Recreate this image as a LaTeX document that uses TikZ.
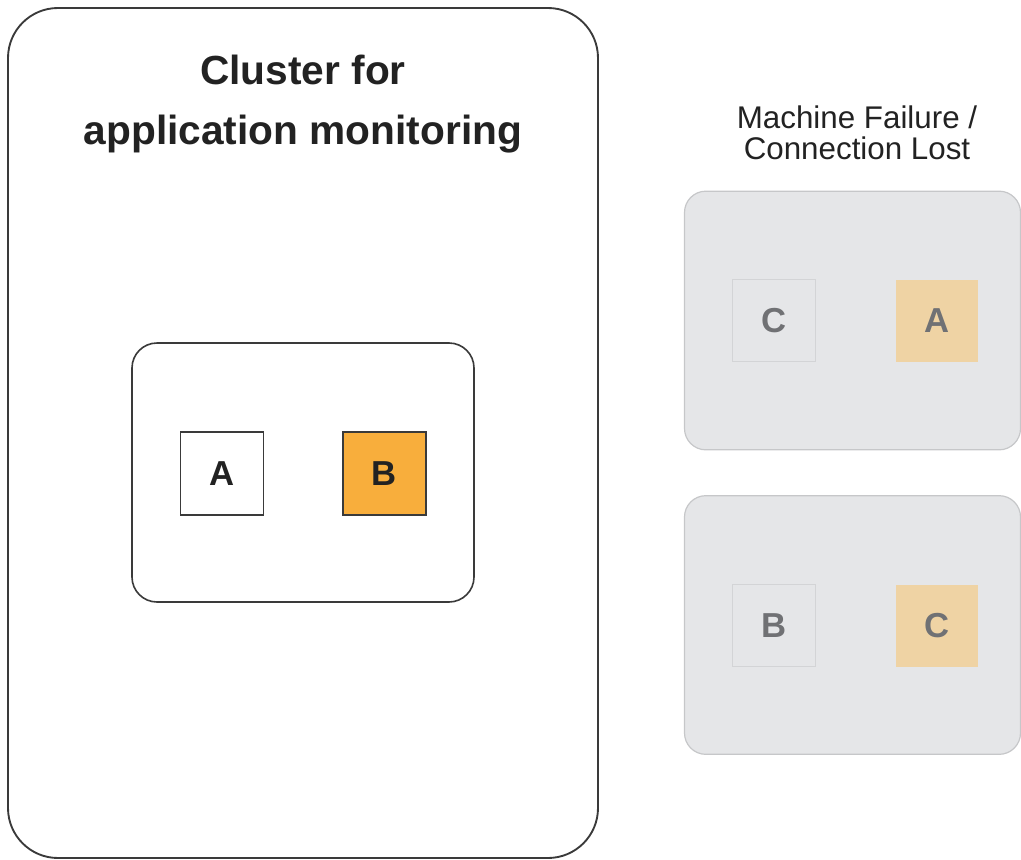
\documentclass[tikz,border=0pt]{standalone}
\usepackage{fontspec}
\setmainfont{Liberation Sans}
\definecolor{darkline}{HTML}{3A3A3A}
\definecolor{orangefill}{HTML}{F8AE3C}
\definecolor{tanfill}{HTML}{EFD3A4}
\definecolor{grayfill}{HTML}{E5E6E8}
\definecolor{grayline}{HTML}{C6C7C9}
\definecolor{lightline}{HTML}{D3D4D6}
\definecolor{graytext}{HTML}{707174}
\definecolor{titletext}{HTML}{222222}
\tikzset{
  bigbox/.style={draw=darkline, line width=1.4pt, rounded corners=37.5pt, fill=white,
    minimum width=442.5pt, minimum height=637.5pt, inner sep=0pt},
  groupbox/.style={draw=darkline, line width=1.2pt, rounded corners=18.75pt, fill=white,
    minimum width=256.5pt, minimum height=194.25pt, inner sep=0pt},
  failbox/.style={draw=grayline, line width=0.9pt, rounded corners=16pt, fill=grayfill,
    minimum width=252pt, minimum height=194pt, inner sep=0pt},
  taskbox/.style={draw=darkline, line width=1.3pt, minimum width=62.25pt, minimum height=62.25pt,
    inner sep=0pt, font=\fontsize{26}{30}\selectfont\bfseries, text=titletext},
  ghostbox/.style={draw=lightline, line width=0.8pt, minimum width=62pt, minimum height=62pt,
    inner sep=0pt, font=\fontsize{26}{30}\selectfont\bfseries, text=graytext},
  titlefont/.style={font=\fontsize{30.5}{40}\selectfont\bfseries, text=titletext, inner sep=0pt, anchor=base},
  notefont/.style={font=\fontsize{23.5}{28}\selectfont, text=titletext, inner sep=0pt, anchor=base},
}
\begin{document}
\begin{tikzpicture}[x=0.75pt,y=-0.75pt]
\useasboundingbox (0,0) rectangle (1021,860);
% left cluster
\node[bigbox] (cluster) at (303,433) {};
\node[titlefont] (t1) at (303,84) {Cluster for};
\node[titlefont] (t2) at (303,144) {application monitoring};
\node[groupbox] (group) at (303,472.5) {};
\node[taskbox, fill=white] (a) at (222,473.5) {A};
\node[taskbox, fill=orangefill] (b) at (384.5,473.5) {B};
% right side
\node[notefont] (n1) at (857,128) {Machine Failure /};
\node[notefont] (n2) at (857,159) {Connection Lost};
\node[failbox] (f1) at (852.5,320.5) {};
\node[ghostbox, fill=grayfill] (c1) at (774,320.5) {C};
\node[ghostbox, draw=none, fill=tanfill] (a1) at (937,321) {A};
\node[failbox] (f2) at (852.5,625) {};
\node[ghostbox, fill=grayfill] (b2) at (774,625.5) {B};
\node[ghostbox, draw=none, fill=tanfill] (c2) at (937,626) {C};
\end{tikzpicture}
\end{document}
